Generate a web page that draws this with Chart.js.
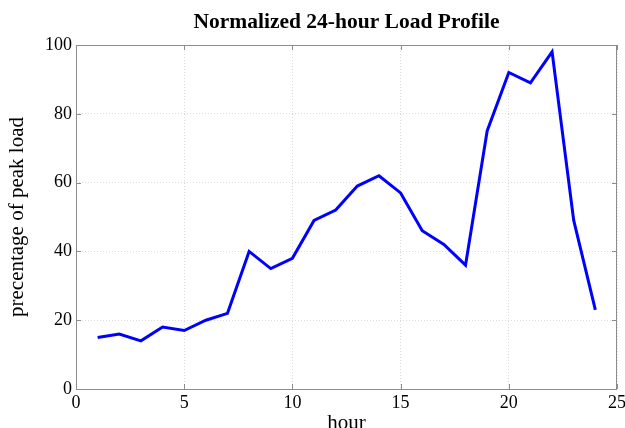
<!DOCTYPE html>
<html>
<head>
<meta charset="utf-8">
<style>
  html, body { margin: 0; padding: 0; background: #fff; }
  #wrap { width: 625px; height: 428px; }
</style>
<script src="https://cdn.jsdelivr.net/npm/chart.js@4/dist/chart.umd.min.js"></script>
</head>
<body>
<div id="wrap"><canvas id="c" width="625" height="428"></canvas></div>
<script>
// hourly load, percent of peak
const hours = [1, 2, 3, 4, 5, 6, 7, 8, 9, 10, 11, 12, 13, 14, 15, 16, 17, 18, 19, 20, 21, 22, 23, 24];
const loadPct = [15, 16, 14, 18, 17, 20, 22, 40, 35, 38, 49, 52, 59, 62, 57, 46, 42, 36, 75, 92, 89, 98, 49, 23];
const xTicks = [0, 5, 10, 15, 20, 25];
const yTicks = [0, 20, 40, 60, 80, 100];

const SERIF = "'Liberation Serif', 'Times New Roman', serif";
const BOX = "#8c8c8c";

// MATLAB-ish axes box with inward ticks on all four sides, plus the title
const boxPlugin = {
  id: "box",
  afterDraw(chart) {
    const { ctx, chartArea: a, scales } = chart;
    ctx.save();
    ctx.strokeStyle = BOX;
    ctx.lineWidth = 1;
    ctx.strokeRect(a.left + 0.5, a.top + 0.5, a.right - a.left - 1, a.bottom - a.top);
    const len = 5;
    ctx.beginPath();
    xTicks.forEach(v => {
      const x = Math.round(scales.x.getPixelForValue(v)) + 0.5;
      ctx.moveTo(x, a.bottom); ctx.lineTo(x, a.bottom - len);
      ctx.moveTo(x, a.top); ctx.lineTo(x, a.top + len);
    });
    yTicks.forEach(v => {
      const y = Math.round(scales.y.getPixelForValue(v)) + 0.5;
      ctx.moveTo(a.left, y); ctx.lineTo(a.left + len, y);
      ctx.moveTo(a.right, y); ctx.lineTo(a.right - len, y);
    });
    ctx.stroke();

    // title centred over the axes box
    ctx.fillStyle = "#000";
    ctx.font = "bold 21.5px " + SERIF;
    ctx.textAlign = "center";
    ctx.textBaseline = "middle";
    ctx.fillText("Normalized 24-hour Load Profile", (a.left + a.right) / 2, 22);
    ctx.restore();
  }
};

new Chart(document.getElementById("c"), {
  type: "line",
  data: {
    datasets: [{
      data: hours.map((h, i) => ({ x: h, y: loadPct[i] })),
      borderColor: "#0000ff",
      borderWidth: 3,
      pointRadius: 0,
      tension: 0,
      fill: false,
    }],
  },
  options: {
    responsive: false,
    animation: false,
    layout: { padding: { top: 45, left: 0, right: 8, bottom: 0 } },
    plugins: { legend: { display: false }, tooltip: { enabled: false }, title: { display: false } },
    scales: {
      x: {
        type: "linear",
        min: 0, max: 25,
        afterBuildTicks: s => { s.ticks = xTicks.map(v => ({ value: v })); },
        afterFit: s => { s.height = 39; s.paddingLeft = 0; s.paddingRight = 0; },
        ticks: { color: "#000", font: { family: SERIF, size: 18 }, padding: 3, maxRotation: 0 },
        grid: { color: "#dcdcdc", drawTicks: false },
        border: { display: false, dash: [1, 2] },
        title: { display: true, text: "hour", color: "#000", font: { family: SERIF, size: 21 }, padding: { top: 0, bottom: -8 } },
      },
      y: {
        min: 0, max: 100,
        afterBuildTicks: s => { s.ticks = yTicks.map(v => ({ value: v })); },
        afterFit: s => { s.width = 76; s.paddingTop = 0; s.paddingBottom = 0; },
        ticks: { color: "#000", font: { family: SERIF, size: 18 }, padding: 4 },
        grid: { color: "#dcdcdc", drawTicks: false },
        border: { display: false, dash: [1, 2] },
        title: { display: true, text: "precentage of peak load", color: "#000", font: { family: SERIF, size: 21 }, padding: { top: 5, bottom: 0 } },
      },
    },
  },
  plugins: [boxPlugin],
});
</script>
</body>
</html>
